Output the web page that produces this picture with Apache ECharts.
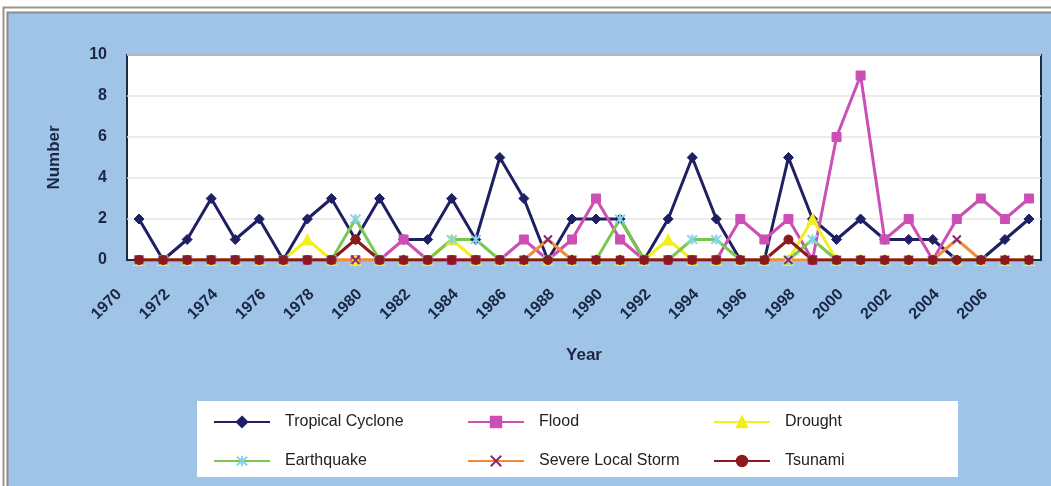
<!DOCTYPE html>
<html>
<head>
<meta charset="utf-8">
<script src="https://cdn.jsdelivr.net/npm/echarts@6/dist/echarts.min.js"></script>
<style>
  html, body { margin: 0; padding: 0; background: #ffffff; }
  #chart { width: 1051px; height: 486px; }
</style>
</head>
<body>
<div id="chart"></div>
<script>
// Disaster events per year, 1970-2007
const years = ['1970','1971','1972','1973','1974','1975','1976','1977','1978','1979',
  '1980','1981','1982','1983','1984','1985','1986','1987','1988','1989',
  '1990','1991','1992','1993','1994','1995','1996','1997','1998','1999',
  '2000','2001','2002','2003','2004','2005','2006','2007'];

const tropicalCyclone = [2,0,1,3,1,2,0,2,3,1, 3,1,1,3,1,5,3,0,2,2, 2,0,2,5,2,0,0,5,2,1, 2,1,1,1,0,0,1,2];
const flood           = [0,0,0,0,0,0,0,0,0,0, 0,1,0,0,0,0,1,0,1,3, 1,0,0,0,0,2,1,2,0,6, 9,1,2,0,2,3,2,3];
const drought         = [0,0,0,0,0,0,0,1,0,0, 0,0,0,1,0,0,0,0,0,0, 0,0,1,0,0,0,0,0,2,0, 0,0,0,0,0,0,0,0];
const earthquake      = [0,0,0,0,0,0,0,0,0,2, 0,0,0,1,1,0,0,0,0,0, 2,0,0,1,1,0,0,0,1,0, 0,0,0,0,0,0,0,0];
const severeStorm     = [0,0,0,0,0,0,0,0,0,0, 0,0,0,0,0,0,0,1,0,0, 0,0,0,0,0,0,0,0,0,0, 0,0,0,0,1,0,0,0];
const tsunami         = [0,0,0,0,0,0,0,0,0,1, 0,0,0,0,0,0,0,0,0,0, 0,0,0,0,0,0,0,1,0,0, 0,0,0,0,0,0,0,0];

const yTicks = { min: 0, max: 10, step: 2 };

const ink = '#1a2744';
const font = 'Liberation Sans, Arial, sans-serif';
const starPath = 'path://M0,0L10,10M10,0L0,10M5,-1L5,11';
const crossPath = 'path://M0,0L10,10M10,0L0,10';

function lineSeries(name, data, lineColor, symbol, size, markColor, stroke) {
  return {
    name: name,
    type: 'line',
    data: data,
    symbol: symbol,
    symbolSize: size,
    showSymbol: true,
    animation: false,
    lineStyle: { color: lineColor, width: 3 },
    itemStyle: stroke
      ? { color: 'rgba(0,0,0,0)', borderColor: markColor, borderWidth: 2 }
      : { color: markColor, borderColor: markColor, borderWidth: 1 },
    emphasis: { disabled: true }
  };
}

const legendText = { fontSize: 16, color: '#222', fontFamily: font, padding: [0, 0, 0, 10] };
function legendColumn(names, left) {
  return {
    data: names, left: left, top: 409, orient: 'vertical',
    itemGap: 23, itemWidth: 56, itemHeight: 13,
    textStyle: legendText, selectedMode: false
  };
}

const chart = echarts.init(document.getElementById('chart'), null, { renderer: 'canvas' });
chart.setOption({
  animation: false,
  backgroundColor: '#ffffff',
  graphic: [
    { type: 'rect', z: -10, shape: { x: 3.5, y: 7.5, width: 1060, height: 490 },
      style: { fill: '#ffffff', stroke: '#9a948e', lineWidth: 2 } },
    { type: 'rect', z: -9, shape: { x: 7.5, y: 12.5, width: 1060, height: 490 },
      style: { fill: '#9fc4e7', stroke: '#8e8a86', lineWidth: 2 } },
    { type: 'rect', z: -5, shape: { x: 197, y: 401, width: 761, height: 76 },
      style: { fill: '#ffffff' } }
  ],
  grid: {
    left: 127, top: 55, width: 914, height: 205,
    show: true, backgroundColor: '#ffffff', borderColor: '#1c2a44', borderWidth: 2
  },
  legend: [
    legendColumn(['Tropical Cyclone', 'Earthquake'], 208),
    legendColumn(['Flood', 'Severe Local Storm'], 462),
    legendColumn(['Drought', 'Tsunami'], 708)
  ],
  xAxis: {
    type: 'category',
    data: years,
    boundaryGap: true,
    name: 'Year',
    nameLocation: 'middle',
    nameGap: 87,
    nameTextStyle: { fontSize: 17, fontWeight: 'bold', color: ink, fontFamily: font },
    axisLine: { lineStyle: { color: '#1c2a44', width: 2 } },
    axisTick: { show: false },
    axisLabel: {
      interval: 1, rotate: 45, margin: 12, padding: [0, 28, 0, 0],
      fontSize: 16, fontWeight: 'bold', color: ink, fontFamily: font
    },
    splitLine: { show: false }
  },
  yAxis: {
    type: 'value',
    min: yTicks.min, max: yTicks.max, interval: yTicks.step,
    name: 'Number',
    nameLocation: 'middle',
    nameGap: 64,
    nameRotate: 90,
    nameTextStyle: { fontSize: 17, fontWeight: 'bold', color: ink, fontFamily: font },
    axisLine: { show: false },
    axisTick: { show: false },
    axisLabel: { margin: 20, fontSize: 16, fontWeight: 'bold', color: ink, fontFamily: font },
    splitLine: { lineStyle: { color: '#e6e6e6', width: 1.5 } }
  },
  series: [
    lineSeries('Tropical Cyclone', tropicalCyclone, '#1f2064', 'diamond', 10, '#1f2064', false),
    lineSeries('Flood', flood, '#cc4fb6', 'rect', 9, '#cc4fb6', false),
    lineSeries('Drought', drought, '#f3ee1e', 'triangle', 11, '#f3ee1e', false),
    lineSeries('Earthquake', earthquake, '#7cc84e', starPath, 10, '#86d4e8', true),
    lineSeries('Severe Local Storm', severeStorm, '#f28c3a', crossPath, 8, '#8a2a6e', true),
    lineSeries('Tsunami', tsunami, '#8b1a1f', 'circle', 9, '#8b1a1f', false)
  ]
});
</script>
</body>
</html>
